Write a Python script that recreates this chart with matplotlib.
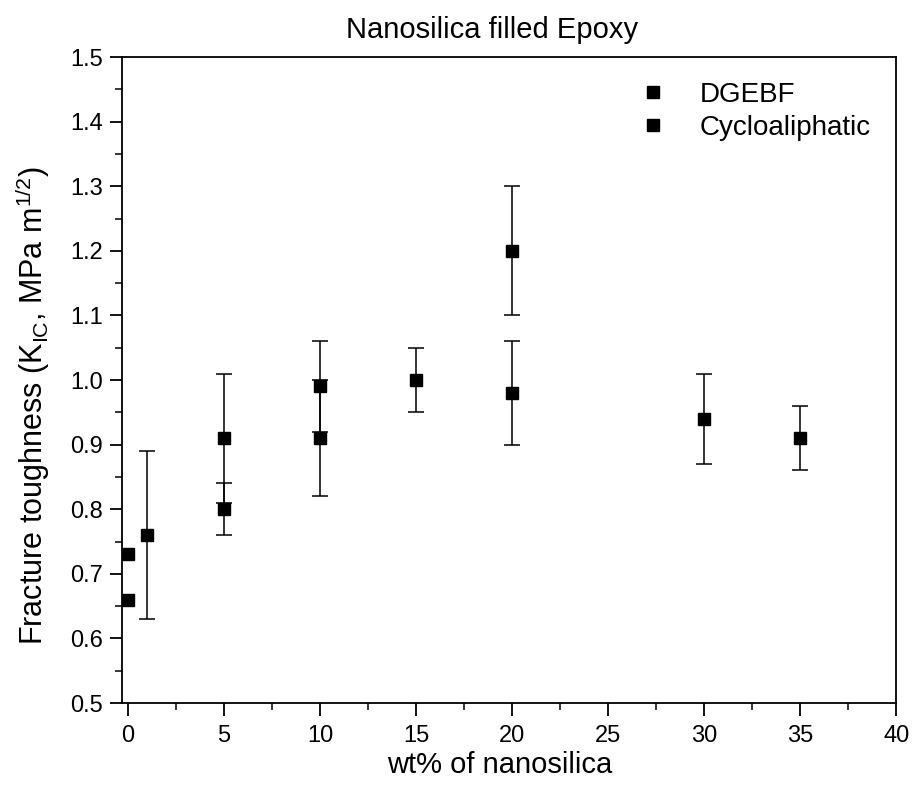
import matplotlib
matplotlib.use("Agg")
import matplotlib.pyplot as plt
from matplotlib.ticker import MultipleLocator
from matplotlib.lines import Line2D

plt.rcParams['font.family'] = ['Liberation Sans', 'DejaVu Sans']
plt.rcParams['mathtext.default'] = 'regular'

# DGEBF
dg_x = [0, 5, 10, 15, 20, 30, 35]
dg_y = [0.73, 0.91, 0.99, 1.00, 0.98, 0.94, 0.91]
dg_err = [0.0, 0.10, 0.07, 0.05, 0.08, 0.07, 0.05]

# Cycloaliphatic
cy_x = [0, 1, 5, 10, 20]
cy_y = [0.66, 0.76, 0.80, 0.91, 1.20]
cy_err = [0.0, 0.13, 0.04, 0.09, 0.10]

fig = plt.figure(figsize=(9.14, 7.94), dpi=100)
ax = fig.add_axes([0.1335, 0.1146, 0.847, 0.8136])

handles = []
for xs, ys, es, lab in [(dg_x, dg_y, dg_err, 'DGEBF'),
                        (cy_x, cy_y, cy_err, 'Cycloaliphatic')]:
    sel = [i for i, e in enumerate(es) if e > 0]
    ax.errorbar([xs[i] for i in sel], [ys[i] for i in sel],
                yerr=[es[i] for i in sel], fmt='none', ecolor='black',
                capsize=6, elinewidth=1.1, capthick=1.1, zorder=2)
    ax.plot(xs, ys, 's', color='black', markersize=9, linestyle='none', zorder=3)
    handles.append(Line2D([], [], marker='s', color='black', linestyle='none',
                          markersize=9, label=lab))

ax.set_xlim(-0.3, 40)
ax.set_ylim(0.5, 1.5)
ax.xaxis.set_major_locator(MultipleLocator(5))
ax.xaxis.set_minor_locator(MultipleLocator(2.5))
ax.yaxis.set_major_locator(MultipleLocator(0.1))
ax.yaxis.set_minor_locator(MultipleLocator(0.05))
ax.yaxis.set_major_formatter(plt.FuncFormatter(lambda v, p: f"{v:.1f}"))

ax.tick_params(which='major', direction='out', length=9, width=1.3, labelsize=17,
               top=False, right=False)
ax.tick_params(axis='x', which='major', pad=7)
ax.tick_params(axis='y', which='major', pad=5)
ax.tick_params(which='minor', direction='out', length=5, width=1.1,
               top=False, right=False)
for s in ax.spines.values():
    s.set_linewidth(1.3)

ax.set_title('Nanosilica filled Epoxy', fontsize=21, pad=14, x=0.478)
ax.set_xlabel('wt% of nanosilica', fontsize=21)
ax.xaxis.set_label_coords(0.488, -0.075)
ax.set_ylabel('Fracture toughness (K$_{IC}$, MPa m$^{1/2}$)', fontsize=22)
ax.yaxis.set_label_coords(-0.09, 0.46)

ax.legend(handles=handles, loc='upper right', frameon=False, fontsize=20,
          handlelength=1.0, handletextpad=1.2, borderaxespad=0.5,
          labelspacing=0.25)

fig.savefig('out.png', dpi=100)
